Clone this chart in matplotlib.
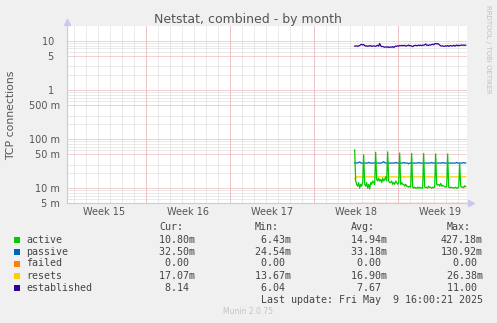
import numpy as np
import matplotlib
matplotlib.use('Agg')
import matplotlib.pyplot as plt
from matplotlib.patches import Rectangle
from matplotlib.ticker import FixedLocator, FixedFormatter, LogLocator, NullFormatter

W, H = 497, 323

# samples every 2 hours, in days relative to Monday of week 16
t_start = 17.42
samples_per_day = 12

# active / passive / resets in milli-connections, established in connections
active_m = [
    60, 14, 12, 11, 13, 10, 12, 11, 13, 48, 12, 11,
    13, 10, 12, 9.6, 13, 12, 14, 13, 12, 54, 15, 14,
    16, 14, 15, 13, 16, 14, 15, 17, 14, 55, 14, 13,
    13, 14, 12, 13, 12, 14, 13, 12, 13, 52, 12, 13,
    12, 12, 11, 12, 11, 11, 10.5, 11, 10.5, 51, 10.5, 10,
    10.5, 10, 10, 10.5, 10, 10.5, 10, 10.2, 10, 51, 10.5, 10.3,
    10.5, 10, 11, 10.5, 10.3, 10, 10.5, 10.2, 10.6, 50, 12, 11.5,
    12, 11, 12.5, 11, 11.5, 11, 10.8, 10.5, 10.6, 50, 10.5, 10.2,
    10.5, 10.2, 10.4, 10, 10.2, 10.5, 10, 10.2, 10.4, 32, 11, 10.5,
    10.6, 10.3, 11.2, 10.8,
]
passive_m = [
    32.5, 32.5, 32.8, 32.5, 33.5, 34.2, 32.8, 32.5, 32.5, 32.6, 32.5, 32.5,
    32.5, 32.5, 33.6, 32.6, 32.5, 32.5, 32.5, 32.5, 32.7, 32.5, 32.5, 32.5,
    32.5, 32.5, 32.5, 32.8, 33.8, 34.5, 33.2, 32.5, 32.5, 32.5, 32.6, 32.5,
    32.5, 32.5, 32.5, 32.5, 32.5, 33.5, 32.6, 32.5, 32.5, 32.8, 32.5, 32.5,
    32.5, 33.4, 32.5, 32.5, 32.5, 32.5, 31.4, 32.5, 32.5, 32.5, 32.5, 32.5,
    32.5, 32.5, 32.5, 32.5, 33.5, 32.5, 32.5, 32.5, 32.5, 32.5, 32.5, 32.5,
    32.5, 32.5, 32.5, 32.5, 32.5, 33.4, 32.5, 32.5, 32.5, 32.5, 32.5, 32.5,
    32.5, 32.5, 32.5, 32.5, 33.4, 32.5, 32.5, 32.5, 32.5, 32.5, 32.5, 32.5,
    32.5, 32.5, 32.5, 32.5, 32.5, 32.5, 33.4, 32.5, 32.5, 32.5, 32.5, 32.5,
    32.5, 33.3, 32.5, 32.5,
]
failed = [0.0] * 112
resets_m = [
    15.5, 16.4, 17.0, 17.0, 17.1, 17.0, 17.0, 17.0, 17.1, 17.0, 17.0, 17.0,
    17.0, 17.0, 17.0, 17.1, 17.0, 17.0, 17.0, 17.0, 17.0, 17.0, 17.1, 17.0,
    17.0, 17.0, 17.0, 17.0, 17.0, 17.1, 17.0, 17.0, 17.0, 17.0, 17.0, 17.0,
    17.0, 17.0, 17.1, 17.0, 17.0, 17.0, 17.0, 17.0, 16.6, 17.0, 17.0, 17.0,
    17.0, 17.0, 17.0, 17.0, 17.0, 17.0, 17.0, 17.1, 17.0, 17.0, 17.0, 17.0,
    17.0, 17.0, 17.0, 17.0, 17.0, 17.0, 17.0, 17.0, 17.0, 17.0, 17.0, 17.0,
    17.0, 17.1, 17.0, 17.0, 17.0, 17.0, 17.0, 17.0, 17.0, 17.0, 17.0, 17.0,
    17.0, 17.0, 17.0, 17.0, 17.0, 17.0, 17.0, 17.0, 17.0, 17.0, 17.0, 17.0,
    17.0, 17.0, 17.0, 17.0, 17.0, 17.0, 17.0, 17.0, 17.0, 17.0, 17.0, 17.0,
    17.0, 17.0, 17.07, 17.07,
]
established = [
    7.8, 7.8, 7.9, 7.7, 7.9, 8.0, 8.3, 8.5, 8.2, 8.4, 8.0, 7.8,
    7.9, 7.7, 7.9, 7.8, 8.0, 7.7, 7.8, 7.9, 7.8, 7.7, 7.9, 8.1,
    7.8, 8.8, 7.9, 7.6, 7.7, 7.5, 7.4, 7.5, 7.4, 7.6, 7.3, 7.4,
    7.5, 7.4, 7.6, 7.3, 7.6, 7.8, 7.7, 7.9, 7.8, 8.0, 7.9, 8.1,
    7.9, 8.0, 8.1, 7.8, 7.9, 8.0, 8.2, 7.9, 8.0, 7.8, 7.6, 7.9,
    8.0, 8.1, 7.9, 8.0, 8.2, 8.0, 8.1, 8.0, 8.2, 8.1, 8.3, 8.6,
    8.1, 8.2, 8.0, 8.3, 8.2, 8.4, 8.5, 8.3, 8.7, 8.8, 8.6, 8.8,
    8.5, 8.2, 7.9, 7.8, 7.9, 7.8, 7.7, 7.9, 7.8, 8.0, 7.7, 7.9,
    8.0, 7.8, 7.9, 8.1, 7.8, 8.0, 8.2, 7.9, 8.1, 8.0, 8.1, 8.2,
    8.1, 8.2, 8.1, 8.14,
]

series_names = ['active', 'passive', 'failed', 'resets', 'established']
series_colors = ['#00CC00', '#0066B3', '#FF8000', '#FFCC00', '#330099']
stat_cur = [10.80e-3, 32.50e-3, 0.0, 17.07e-3, 8.14]
stat_min = [6.43e-3, 24.54e-3, 0.0, 13.67e-3, 6.04]
stat_avg = [14.94e-3, 33.18e-3, 0.0, 16.90e-3, 7.67]
stat_max = [427.18e-3, 130.92e-3, 0.0, 26.38e-3, 11.00]

week_labels = ['Week 15', 'Week 16', 'Week 17', 'Week 18', 'Week 19']
week_centers = [-3.5, 3.5, 10.5, 17.5, 24.5]
week_starts = [0, 7, 14, 21]
x_range = (-6.55, 26.78)

y_ticks = [0.005, 0.01, 0.05, 0.1, 0.5, 1, 5, 10]
y_tick_labels = ['5 m', '10 m', '50 m', '100 m', '500 m', '1  ', '5  ', '10  ']
y_range = (0.005, 20)


def px(x, y):
    return x / W, 1 - y / H


def fmt(v):
    if v != 0 and abs(v) < 1:
        return f'{v * 1000:6.2f}m'
    return f'{v:6.2f} '


fig = plt.figure(figsize=(W / 100, H / 100), dpi=100, facecolor='#F0F0F0')
ax = fig.add_axes([67 / W, 120 / H, 400 / W, 177 / H], facecolor='white')

t = t_start + np.arange(len(active_m)) / samples_per_day
lw = 0.9
ax.plot(t, np.clip(failed, y_range[0], None), color='#f5a070', lw=1.0, zorder=3)
ax.plot(t, np.array(resets_m) / 1000, color=series_colors[3], lw=lw, zorder=4)
ax.plot(t, np.array(passive_m) / 1000, color=series_colors[1], lw=lw, zorder=4)
ax.plot(t, np.array(active_m) / 1000, color=series_colors[0], lw=lw, zorder=5)
ax.plot(t, established, color=series_colors[4], lw=lw, zorder=4)

ax.set_yscale('log')
ax.set_ylim(*y_range)
ax.set_xlim(*x_range)

# grid: minor grey dotted, major red dotted
grid_kw = dict(lw=0.72, ls=(0, (1, 1)), snap=True)
ax.yaxis.set_major_locator(FixedLocator(y_ticks))
ax.yaxis.set_major_formatter(FixedFormatter(y_tick_labels))
ax.yaxis.set_minor_locator(LogLocator(base=10, subs=(2, 3, 6, 7, 8, 9), numticks=20))
ax.yaxis.set_minor_formatter(NullFormatter())
for day in range(-6, 27):
    ax.axvline(day, color='#d6d6d6', zorder=1, **grid_kw)
for wk in week_starts:
    ax.axvline(wk, color='#eea4a4', zorder=2, **grid_kw)
for v in ax.yaxis.get_minorticklocs():
    if y_range[0] < v < y_range[1]:
        ax.axhline(v, color='#d6d6d6', zorder=1, **grid_kw)
for v in y_ticks:
    ax.axhline(v, color='#eea4a4', zorder=2, **grid_kw)

ax.set_xticks(week_centers)
ax.set_xticklabels(week_labels)
ax.tick_params(axis='both', which='both', length=0, labelsize=7, labelcolor='#555555')
ax.tick_params(axis='y', pad=4.8)
ax.tick_params(axis='x', pad=3)

for side in ('top', 'right'):
    ax.spines[side].set_visible(False)
for side in ('left', 'bottom'):
    ax.spines[side].set_color('#c8c8f0')
    ax.spines[side].set_linewidth(0.8)
ax.plot([0], [1.02], marker='^', ms=4, color='#c8c8f0', transform=ax.transAxes, clip_on=False)
ax.plot([1.01], [0], marker='>', ms=4, color='#c8c8f0', transform=ax.transAxes, clip_on=False)

# titles and side texts
fig.text(*px(248, 19), 'Netstat, combined - by month', ha='center', va='center',
         fontsize=9, color='#555555')
fig.text(*px(11, 115), 'TCP connections', ha='center', va='center', rotation=90,
         fontsize=7.8, color='#555555')
fig.text(*px(488, 5), 'RRDTOOL / TOBI OETIKER', ha='center', va='top', rotation=270,
         fontsize=5, color='#c0c0c0')
fig.text(*px(248, 312), 'Munin 2.0.75', ha='center', va='center', fontsize=5.5, color='#c4c4c4')

# legend table
mono = dict(family='DejaVu Sans Mono', fontsize=7.2, color='#444444', va='center')
col_x = [153, 249, 345, 441]
for x, head in zip(col_x, ['Cur:', 'Min:', 'Avg:', 'Max:']):
    fig.text(*px(x + 6, 227.5), head, **mono)
row_y = [239.7, 251.7, 263.5, 275.7, 287.7]
for i, name in enumerate(series_names):
    y = row_y[i]
    fig.patches.append(Rectangle(px(14, y + 3), 6 / W, 6 / H, transform=fig.transFigure,
                                 facecolor=series_colors[i], edgecolor='none'))
    fig.text(*px(26, y), name, **mono)
    for x, vals in zip(col_x, [stat_cur, stat_min, stat_avg, stat_max]):
        fig.text(*px(x, y), fmt(vals[i]), **mono)
fig.text(*px(483, 299.7), 'Last update: Fri May  9 16:00:21 2025', ha='right', **mono)

fig.savefig('out.png', dpi=100, facecolor=fig.get_facecolor())
